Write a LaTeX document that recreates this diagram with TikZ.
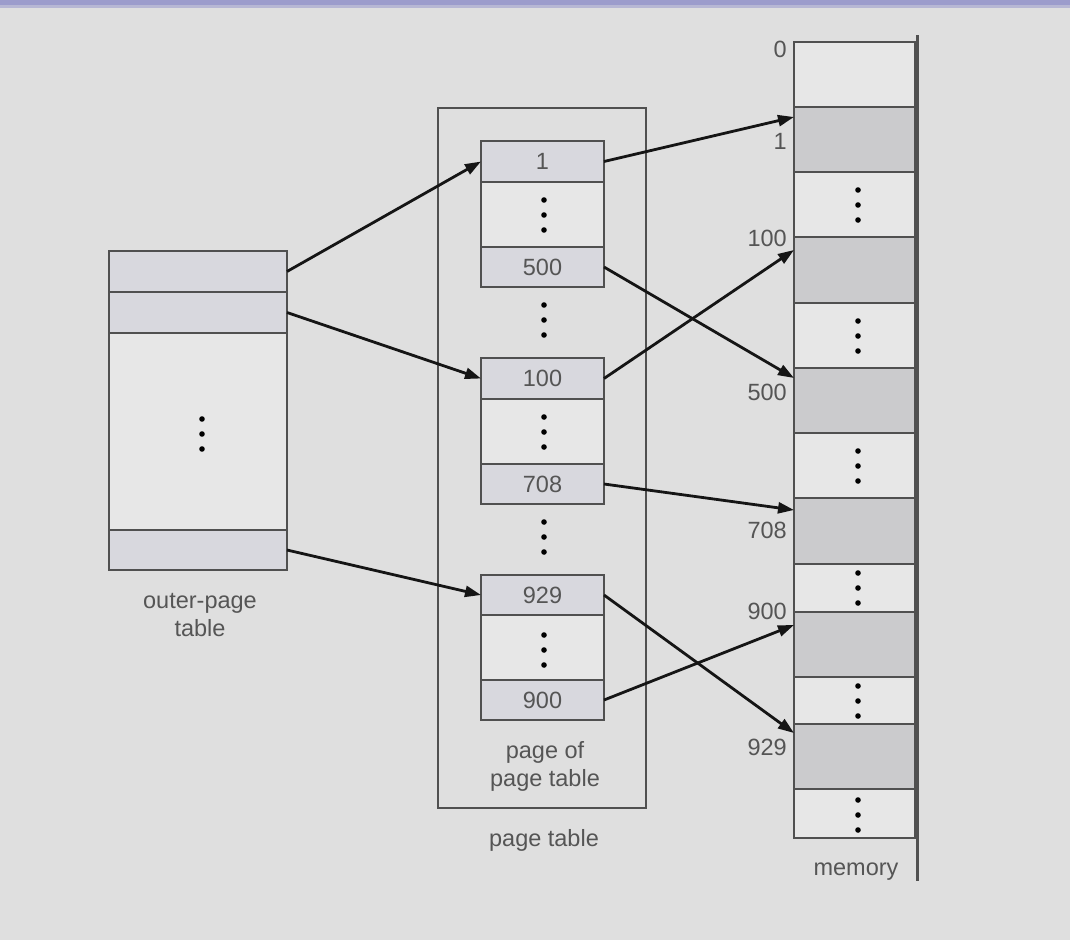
\documentclass[tikz,border=0pt]{standalone}
\usepackage{fontspec}
\setmainfont{Liberation Sans}
\usetikzlibrary{arrows.meta,calc}
\definecolor{bgc}{HTML}{DFDFDF}
\definecolor{barc}{HTML}{9C9CCC}
\definecolor{shadec}{HTML}{D8D8DE}
\definecolor{whitec}{HTML}{E7E7E7}
\definecolor{memshade}{HTML}{CBCBCD}
\definecolor{linec}{HTML}{505050}
\definecolor{textc}{HTML}{555555}
\definecolor{arrowc}{HTML}{151515}
\tikzset{
  cell/.style={draw=linec, line width=2.2pt, rectangle, inner sep=0pt, outer sep=0pt, text=textc, font=\fontsize{23.5}{28}\selectfont},
  shadedcell/.style={cell, fill=shadec},
  plaincell/.style={cell, fill=whitec},
  memshadecell/.style={cell, fill=memshade},
  lbl/.style={text=textc, font=\fontsize{23.5}{28}\selectfont, inner sep=0pt, align=center},
  ptr/.style={draw=arrowc, line width=2.8pt, -{Triangle[length=16pt,width=11pt]}},
  dot/.style={fill=black}
}
\newcommand{\threedots}[2]{%
  \fill[dot] (#1,#2-15) circle (2.8);
  \fill[dot] (#1,#2) circle (2.8);
  \fill[dot] (#1,#2+15) circle (2.8);}
\begin{document}
\begin{tikzpicture}[x=1pt,y=-1pt]
\useasboundingbox (0,0) rectangle (1070,940);
\fill[bgc] (0,0) rectangle (1070,940);
\fill[barc!60!bgc] (0,0) rectangle (1070,8);
\fill[barc] (0,0) rectangle (1070,5);

% outer-page table
\node[shadedcell, minimum width=178pt, minimum height=41pt] (o1) at (198,271.5) {};
\node[shadedcell, minimum width=178pt, minimum height=41pt] (o2) at (198,312.5) {};
\node[plaincell, minimum width=178pt, minimum height=197pt] (om) at (198,431.5) {};
\node[shadedcell, minimum width=178pt, minimum height=40pt] (o4) at (198,550) {};
\threedots{202}{434}
\node[lbl] (olbl) at (200,615) {outer-page\\table};

% page table frame
\node[draw=linec, line width=1.5pt, minimum width=208pt, minimum height=700pt, inner sep=0pt] (pt) at (542,458) {};
\node[lbl] (ptlbl) at (544,840) {page table};

% page of page table
\node[shadedcell, minimum width=123pt, minimum height=41pt] (p1) at (542.5,161.5) {1};
\node[plaincell, minimum width=123pt, minimum height=65pt] (pd1) at (542.5,214.5) {};
\node[shadedcell, minimum width=123pt, minimum height=40pt] (p500) at (542.5,267) {500};
\node[shadedcell, minimum width=123pt, minimum height=41pt] (p100) at (542.5,378.5) {100};
\node[plaincell, minimum width=123pt, minimum height=65pt] (pd2) at (542.5,431.5) {};
\node[shadedcell, minimum width=123pt, minimum height=40pt] (p708) at (542.5,484) {708};
\node[shadedcell, minimum width=123pt, minimum height=40pt] (p929) at (542.5,595) {929};
\node[plaincell, minimum width=123pt, minimum height=65pt] (pd3) at (542.5,647.5) {};
\node[shadedcell, minimum width=123pt, minimum height=40pt] (p900) at (542.5,700) {900};
\threedots{544}{215}
\threedots{544}{320}
\threedots{544}{432}
\threedots{544}{537}
\threedots{544}{650}
\node[lbl] (pplbl) at (545,766) {page of\\page table};

% memory
\node[plaincell, minimum width=121pt, minimum height=65pt] (m0) at (854.5,74.5) {};
\node[memshadecell, minimum width=121pt, minimum height=65pt] (m1) at (854.5,139.5) {};
\node[plaincell, minimum width=121pt, minimum height=65pt] (md1) at (854.5,204.5) {};
\node[memshadecell, minimum width=121pt, minimum height=66pt] (m100) at (854.5,270) {};
\node[plaincell, minimum width=121pt, minimum height=65pt] (md2) at (854.5,335.5) {};
\node[memshadecell, minimum width=121pt, minimum height=65pt] (m500) at (854.5,400.5) {};
\node[plaincell, minimum width=121pt, minimum height=65pt] (md3) at (854.5,465.5) {};
\node[memshadecell, minimum width=121pt, minimum height=66pt] (m708) at (854.5,531) {};
\node[plaincell, minimum width=121pt, minimum height=48pt] (md4) at (854.5,588) {};
\node[memshadecell, minimum width=121pt, minimum height=65pt] (m900) at (854.5,644.5) {};
\node[plaincell, minimum width=121pt, minimum height=47pt] (md5) at (854.5,700.5) {};
\node[memshadecell, minimum width=121pt, minimum height=65pt] (m929) at (854.5,756.5) {};
\node[plaincell, minimum width=121pt, minimum height=49pt] (md6) at (854.5,813.5) {};
\threedots{858}{205}
\threedots{858}{336}
\threedots{858}{466}
\threedots{858}{588}
\threedots{858}{701}
\threedots{858}{815}
\coordinate (mtop) at (917.5,35);
\coordinate (mbot) at (917.5,881);
\draw[linec, line width=2.2pt] (mtop) -- (mbot);
\node[lbl] (memlbl) at (856,872) {memory};

% memory address labels
\node[lbl, anchor=east] (a0) at (787,49) {0};
\node[lbl, anchor=east] (a1) at (787,141) {1};
\node[lbl, anchor=east] (a100) at (787,238) {100};
\node[lbl, anchor=east] (a500) at (787,392) {500};
\node[lbl, anchor=east] (a708) at (787,530) {708};
\node[lbl, anchor=east] (a900) at (787,611) {900};
\node[lbl, anchor=east] (a929) at (787,747) {929};

% pointers
\draw[ptr] (o1.east) -- (p1.west);
\draw[ptr] (o2.east) -- (p100.west);
\draw[ptr] (o4.east) -- (p929.west);
\draw[ptr] (p1.east) -- ([yshift=-10pt]m1.north west);
\draw[ptr] (p500.east) -- ([yshift=-10pt]m500.north west);
\draw[ptr] (p100.east) -- ([yshift=-13pt]m100.north west);
\draw[ptr] (p708.east) -- ([yshift=-12pt]m708.north west);
\draw[ptr] (p929.east) -- ([yshift=-9pt]m929.north west);
\draw[ptr] (p900.east) -- ([yshift=-13pt]m900.north west);
\end{tikzpicture}
\end{document}
